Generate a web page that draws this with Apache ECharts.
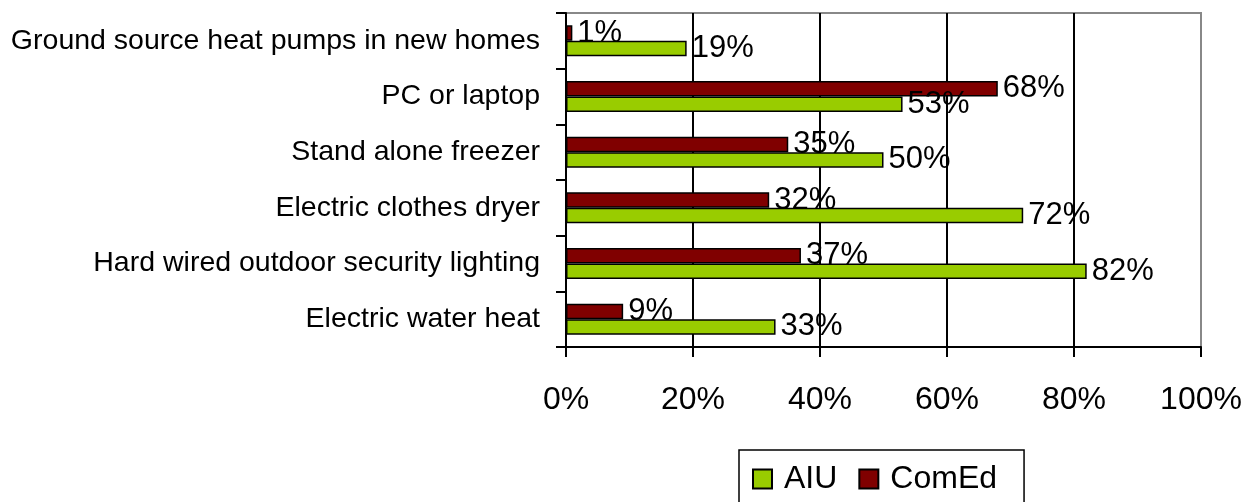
<!DOCTYPE html>
<html>
<head>
<meta charset="utf-8">
<script src="https://cdn.jsdelivr.net/npm/echarts@6/dist/echarts.min.js"></script>
<style>
  html, body { margin: 0; padding: 0; background: #fff; }
  #chart { width: 1251px; height: 502px; }
</style>
</head>
<body>
<div id="chart"></div>
<script>
// categories, bottom to top (the category axis starts at the bottom)
var categories = [
    'Electric water heat',
    'Hard wired outdoor security lighting',
    'Electric clothes dryer',
    'Stand alone freezer',
    'PC or laptop',
    'Ground source heat pumps in new homes'
];
var aiu = [33, 82, 72, 50, 53, 19];
var comed = [9, 37, 32, 35, 68, 1];
var xTicks = [0, 20, 40, 60, 80, 100];

var font = '"Liberation Sans", Arial, sans-serif';

var myChart = echarts.init(document.getElementById('chart'));

var option = {
    animation: false,
    backgroundColor: '#fff',
    textStyle: { fontFamily: font },
    grid: {
        left: 566,
        right: 50,
        top: 13,
        bottom: 155,
        show: true,
        borderColor: '#888888',
        borderWidth: 2,
        backgroundColor: 'transparent'
    },
    legend: {
        data: ['AIU', 'ComEd'],
        left: 739,
        top: 450,
        padding: [13, 27, 13, 13],
        borderColor: '#000',
        borderWidth: 1.5,
        itemWidth: 19,
        itemHeight: 19,
        itemGap: 21,
        icon: 'rect',
        textStyle: {
            fontFamily: font,
            fontSize: 32,
            color: '#000',
            padding: [0, 0, 0, 7]
        }
    },
    xAxis: {
        type: 'value',
        min: xTicks[0],
        max: xTicks[xTicks.length - 1],
        interval: 20,
        axisLine: { show: true, lineStyle: { color: '#000', width: 2 } },
        axisTick: { show: true, length: 10, lineStyle: { color: '#000', width: 2 } },
        axisLabel: {
            formatter: '{value}%',
            fontFamily: font,
            fontSize: 32,
            color: '#000',
            margin: 37
        },
        splitLine: {
            show: true,
            // last one is the grey right border
            lineStyle: { color: ['#000', '#000', '#000', '#000', '#000', '#888888'], width: 2 }
        }
    },
    yAxis: {
        type: 'category',
        data: categories,
        axisLine: { show: true, lineStyle: { color: '#000', width: 2 } },
        axisTick: { show: true, length: 10, lineStyle: { color: '#000', width: 2 } },
        axisLabel: {
            fontFamily: font,
            fontSize: 28.5,
            color: '#000',
            margin: 26
        },
        splitLine: { show: false }
    },
    series: [
        {
            name: 'ComEd',
            type: 'bar',
            data: comed,
            barWidth: 15.5,
            barGap: '0%',
            itemStyle: { color: '#800000', borderColor: '#000', borderWidth: 1.5 },
            label: {
                show: true,
                position: 'right',
                distance: 5,
                formatter: '{c}%',
                fontFamily: font,
                fontSize: 31,
                color: '#000'
            }
        },
        {
            name: 'AIU',
            type: 'bar',
            data: aiu,
            barWidth: 15.5,
            barGap: '0%',
            itemStyle: { color: '#99cc00', borderColor: '#000', borderWidth: 1.5 },
            label: {
                show: true,
                position: 'right',
                distance: 5,
                formatter: '{c}%',
                fontFamily: font,
                fontSize: 31,
                color: '#000'
            }
        }
    ]
};

myChart.setOption(option);
</script>
</body>
</html>
